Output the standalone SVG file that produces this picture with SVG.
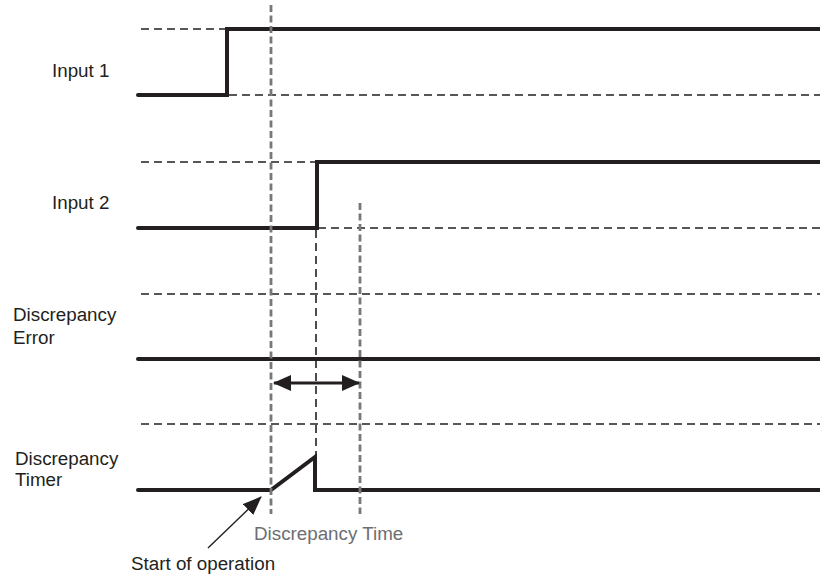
<svg xmlns="http://www.w3.org/2000/svg" width="820" height="578" viewBox="0 0 820 578">
<defs>
<style>
.lbl{font-family:"Liberation Sans",Arial,sans-serif;font-size:18.8px;fill:#231f20}
.glbl{font-family:"Liberation Sans",Arial,sans-serif;font-size:18.8px;fill:#6d6e71}
.sig{fill:none;stroke:#231f20;stroke-width:4;stroke-linecap:round;stroke-linejoin:miter}
.ref{fill:none;stroke:#231f20;stroke-width:1.6;stroke-dasharray:8 5}
.vdash{fill:none;stroke:#231f20;stroke-width:1.6;stroke-dasharray:8 5}
.gdash{fill:none;stroke:#77787b;stroke-width:2.8;stroke-dasharray:7 3.5}
</style>
<marker id="ah" viewBox="0 0 18 16" refX="17" refY="8" markerWidth="18" markerHeight="16" markerUnits="userSpaceOnUse" orient="auto-start-reverse">
<path d="M0,0 L18,8 L0,16 Z" fill="#231f20"/>
</marker>
<marker id="ah2" viewBox="0 0 19 15" refX="18" refY="7.5" markerWidth="19" markerHeight="15" markerUnits="userSpaceOnUse" orient="auto">
<path d="M0,0 L19,7.5 L0,15 Z" fill="#231f20"/>
</marker>
</defs>

<g id="guides">
<line class="ref" x1="141" y1="29" x2="227" y2="29"/>
<line class="ref" x1="229" y1="95" x2="820" y2="95"/>
<line class="ref" x1="141" y1="162" x2="316" y2="162"/>
<line class="ref" x1="318" y1="228" x2="820" y2="228"/>
<line class="ref" x1="141" y1="294" x2="820" y2="294"/>
<line class="ref" x1="141" y1="424" x2="820" y2="424"/>
</g>

<g id="input1">
<text class="lbl" x="52" y="77">Input 1</text>
<polyline class="sig" points="138,95 227,95 227,29 820,29"/>
</g>

<g id="input2">
<text class="lbl" x="52" y="209">Input 2</text>
<polyline class="sig" points="138,228 317,228 317,162 820,162"/>
</g>

<g id="discrepancy-error">
<text class="lbl" x="13" y="321">Discrepancy</text>
<text class="lbl" x="13" y="344">Error</text>
<line class="sig" x1="138" y1="359" x2="820" y2="359"/>
</g>

<g id="discrepancy-timer">
<text class="lbl" x="15" y="465">Discrepancy</text>
<text class="lbl" x="15" y="486">Timer</text>
<polyline class="sig" points="138,490 271,490 315,457 315,490 820,490"/>
</g>

<g id="connectors">
<line class="vdash" x1="316" y1="230" x2="316" y2="456"/>
<line class="gdash" x1="271" y1="5" x2="271" y2="514"/>
<line class="gdash" x1="360" y1="203" x2="360" y2="514"/>
<line x1="274" y1="383" x2="359" y2="383" stroke="#231f20" stroke-width="3" marker-start="url(#ah)" marker-end="url(#ah)"/>
<line x1="208" y1="548" x2="261" y2="497" stroke="#231f20" stroke-width="1.4" marker-end="url(#ah2)"/>
</g>

<g id="annotations">
<text class="glbl" x="254" y="540">Discrepancy Time</text>
<text class="lbl" x="131" y="570">Start of operation</text>
</g>
</svg>
